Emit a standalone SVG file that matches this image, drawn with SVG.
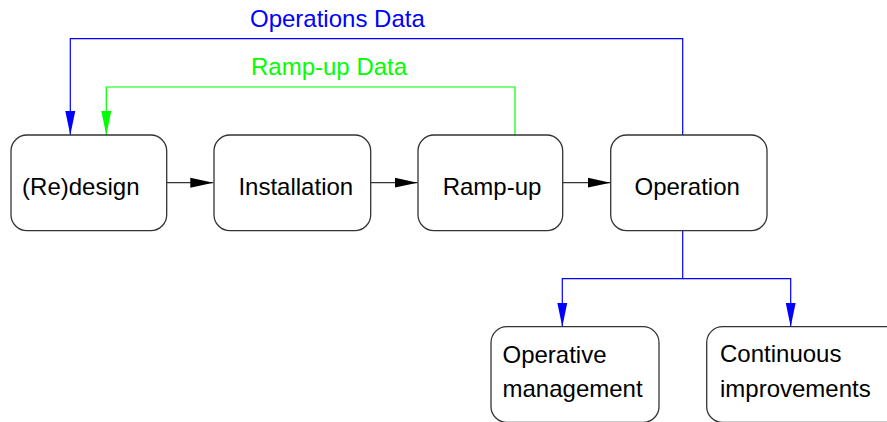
<svg xmlns="http://www.w3.org/2000/svg" width="887" height="422" viewBox="0 0 887 422">
<defs>
<style>
.box{fill:#ffffff;stroke:#333333;stroke-width:1.3}
.lbl{font-family:"Liberation Sans",Arial,sans-serif;font-size:24px;fill:#000000}
.edge{fill:none;stroke-width:1.2}
.k{stroke:#333333}
.b{stroke:#0000ff}
.g{stroke:#00ff00}
</style>
<marker id="ak" markerUnits="userSpaceOnUse" markerWidth="24" markerHeight="12" refX="23" refY="6" orient="auto"><path d="M0,1 L23,6 L0,11 z" fill="#000000"/></marker>
<marker id="ab" markerUnits="userSpaceOnUse" markerWidth="24" markerHeight="12" refX="24" refY="6" orient="auto"><path d="M0,1 L24,6 L0,11 z" fill="#0000ff"/></marker>
<marker id="ag" markerUnits="userSpaceOnUse" markerWidth="24" markerHeight="12" refX="24" refY="6" orient="auto"><path d="M0,1 L24,6 L0,11 z" fill="#00ff00"/></marker>
</defs>
<rect width="887" height="422" fill="#ffffff"/>
<g id="connectors">
<path class="edge k" d="M166.7,182.7 H213.3" marker-end="url(#ak)"/>
<path class="edge k" d="M370.7,182.7 H417.5" marker-end="url(#ak)"/>
<path class="edge k" d="M562.7,182.7 H610.5" marker-end="url(#ak)"/>
<path class="edge b" d="M682.7,135 V38.7 H70.3 V135" marker-end="url(#ab)"/>
<path class="edge g" d="M515,135 V87 H106.3 V135" marker-end="url(#ag)"/>
<path class="edge b" d="M682.7,231 V278.7 H562.3 V326.7" marker-end="url(#ab)"/>
<path class="edge b" d="M682.7,278.7 H790.7 V326.7" marker-end="url(#ab)"/>
<text x="250" y="26.7" class="lbl" style="fill:#0000ff">Operations Data</text>
<text x="251" y="74.5" class="lbl" style="fill:#00ff00">Ramp-up Data</text>
</g>
<g id="redesign">
<rect class="box" x="11" y="135" width="155.7" height="95.7" rx="16"/>
<text class="lbl" x="80.8" y="194.5" text-anchor="middle">(Re)design</text>
</g>
<g id="installation">
<rect class="box" x="214" y="135" width="156.7" height="95.7" rx="16"/>
<text class="lbl" x="295.8" y="194.5" text-anchor="middle">Installation</text>
</g>
<g id="rampup">
<rect class="box" x="418" y="135" width="144.7" height="95.7" rx="16"/>
<text class="lbl" x="492" y="194.5" text-anchor="middle">Ramp-up</text>
</g>
<g id="operation">
<rect class="box" x="610.7" y="135" width="156.3" height="95.7" rx="16"/>
<text class="lbl" x="687.2" y="194.5" text-anchor="middle">Operation</text>
</g>
<g id="operative">
<rect class="box" x="491" y="326.7" width="168" height="95.7" rx="16"/>
<text class="lbl" x="502.5" y="363">Operative</text>
<text class="lbl" x="502.5" y="397.3">management</text>
</g>
<g id="continuous">
<rect class="box" x="706.7" y="326.7" width="200" height="95.7" rx="16"/>
<text class="lbl" x="720" y="362">Continuous</text>
<text class="lbl" x="720" y="397">improvements</text>
</g>
</svg>
